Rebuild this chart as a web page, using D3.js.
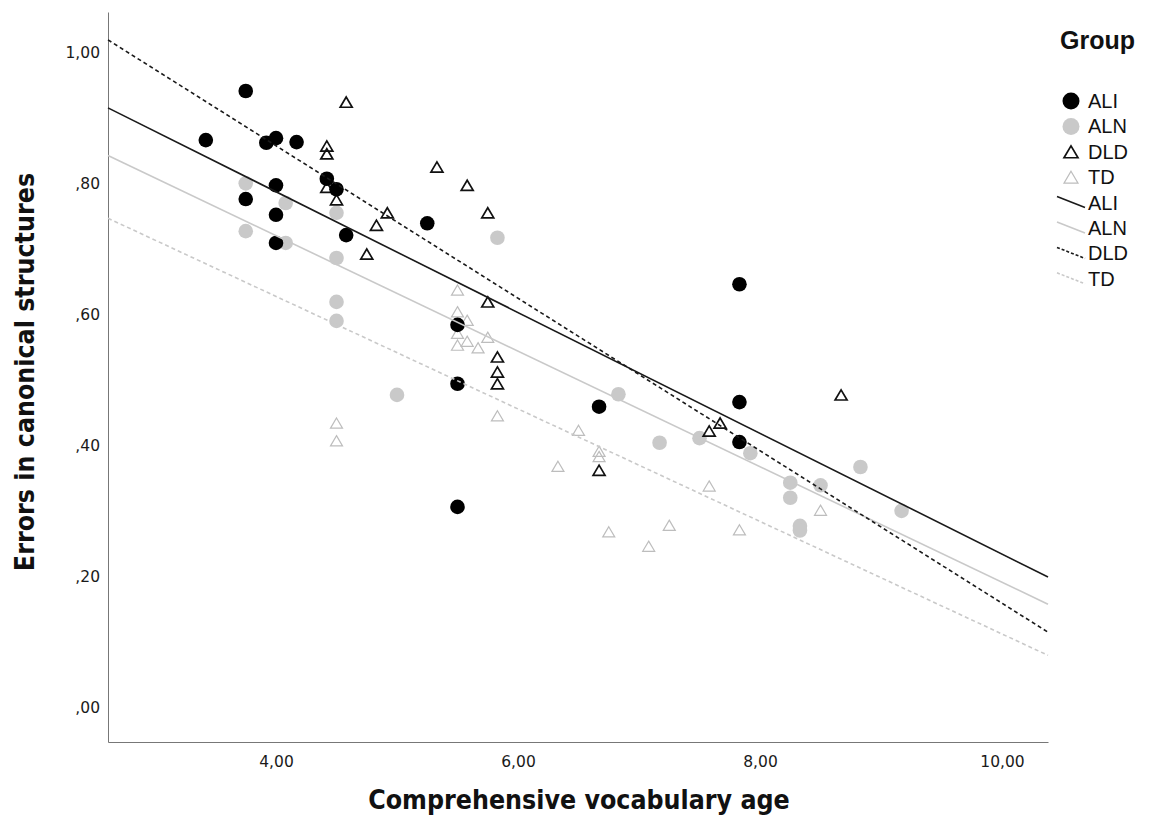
<!DOCTYPE html>
<html>
<head>
<meta charset="utf-8">
<script src="https://cdn.jsdelivr.net/npm/d3@7"></script>
<style>
  body { margin: 0; background: #fff; }
  .tick-label { font-family: "DejaVu Sans", sans-serif; font-size: 15.5px; fill: #1a1a1a; }
  .axis-title { font-family: "Liberation Sans Narrow", "DejaVu Sans Condensed", sans-serif; font-weight: bold; fill: #111; }
  .legend text { font-family: "Liberation Sans", Arial, sans-serif; fill: #111; }
</style>
</head>
<body>
<div id="chart"></div>
<script>
document.addEventListener('DOMContentLoaded', init, false);

var width = 1151;
var height = 828;

// scatter points per group: [vocabulary age, errors]
var aliPoints = [
  [3.42, 0.867], [3.75, 0.942], [3.92, 0.863], [4.00, 0.870], [4.17, 0.864],
  [3.75, 0.777], [4.00, 0.798], [4.00, 0.753], [4.00, 0.710], [4.42, 0.808],
  [4.50, 0.792], [4.58, 0.722], [5.25, 0.740], [5.50, 0.585], [5.50, 0.495],
  [5.50, 0.307], [6.67, 0.460], [7.83, 0.647], [7.83, 0.467], [7.83, 0.406]
];
var alnPoints = [
  [3.75, 0.801], [3.75, 0.728], [4.08, 0.771], [4.08, 0.710], [4.50, 0.756],
  [4.50, 0.687], [4.50, 0.620], [4.50, 0.591], [5.00, 0.478], [5.83, 0.718],
  [6.83, 0.479], [7.17, 0.405], [7.50, 0.412], [7.92, 0.389], [8.25, 0.344],
  [8.25, 0.321], [8.33, 0.278], [8.33, 0.271], [8.50, 0.340], [8.83, 0.368],
  [9.17, 0.301]
];
var dldPoints = [
  [4.42, 0.858], [4.42, 0.846], [4.58, 0.925], [4.42, 0.795], [4.50, 0.776],
  [4.75, 0.693], [4.83, 0.737], [4.92, 0.756], [5.33, 0.826], [5.58, 0.798],
  [5.75, 0.756], [5.75, 0.620], [5.83, 0.536], [5.83, 0.513], [5.83, 0.495],
  [6.67, 0.363], [7.58, 0.423], [7.67, 0.435], [8.67, 0.478]
];
var tdPoints = [
  [5.50, 0.638], [5.50, 0.605], [5.58, 0.592], [5.50, 0.572], [5.50, 0.554],
  [5.58, 0.560], [5.67, 0.550], [5.75, 0.566], [5.83, 0.446], [4.50, 0.435],
  [4.50, 0.408], [6.33, 0.369], [6.50, 0.424], [6.67, 0.392], [6.67, 0.384],
  [6.75, 0.269], [7.08, 0.247], [7.25, 0.279], [7.58, 0.339], [7.83, 0.272],
  [8.50, 0.302]
];

// fitted lines per group
var fitGroups = ['ALI', 'ALN', 'DLD', 'TD'];
var fitIntercepts = [1.157, 1.074, 1.324, 0.972];
var fitSlopes = [-0.0922, -0.0882, -0.1164, -0.0859];

var xTicks = [4, 6, 8, 10];
var yTicks = [0, 0.2, 0.4, 0.6, 0.8, 1.0];

var xTitle = 'Comprehensive vocabulary age';
var yTitle = 'Errors in canonical structures';
var legendTitle = 'Group';

var markerStyles = {
  ALI: { shape: 'circle', fill: '#000', stroke: 'none' },
  ALN: { shape: 'circle', fill: '#c9c9c9', stroke: 'none' },
  DLD: { shape: 'triangle', fill: 'none', stroke: '#111' },
  TD: { shape: 'triangle', fill: 'none', stroke: '#bdbdbd' }
};
var lineStyles = {
  ALI: { stroke: '#1a1a1a', dash: null },
  ALN: { stroke: '#c9c9c9', dash: null },
  DLD: { stroke: '#1a1a1a', dash: '4,3' },
  TD: { stroke: '#c9c9c9', dash: '4,3' }
};

function init() {

  var svg = d3.select('#chart')
    .append('svg')
      .attr('width', width)
      .attr('height', height);

  var xScale = d3.scaleLinear()
    .domain([2.6116, 10.38])
    .range([108, 1048]);

  var yScale = d3.scaleLinear()
    .domain([-0.0519, 1.0626])
    .range([742, 12]);

  drawAxes(svg, xScale, yScale);
  drawPoints(svg, xScale, yScale);
  drawFits(svg, xScale, yScale);
  drawLegend(svg);
}

function drawAxes(svg, xScale, yScale) {

  var fmt = function (d) {
    var s = d3.format('.2f')(d).replace('.', ',');
    return s.charAt(0) === '0' ? s.slice(1) : s;
  };

  svg.append('g')
    .attr('transform', 'translate(0,742)')
    .call(d3.axisBottom(xScale).tickValues(xTicks).tickSize(0).tickPadding(14).tickFormat(fmt))
    .call(function (g) {
      g.select('.domain').attr('stroke', '#777');
      g.selectAll('text').attr('class', 'tick-label').attr('fill', null).attr('font-size', null).attr('font-family', null);
    });

  svg.append('g')
    .attr('transform', 'translate(108,0)')
    .call(d3.axisLeft(yScale).tickValues(yTicks).tickSize(0).tickPadding(8).tickFormat(fmt))
    .call(function (g) {
      g.select('.domain').attr('stroke', '#777');
      g.selectAll('text').attr('class', 'tick-label').attr('fill', null).attr('font-size', null).attr('font-family', null);
    });

  svg.append('text')
    .attr('class', 'axis-title')
    .attr('x', 579)
    .attr('y', 809)
    .attr('text-anchor', 'middle')
    .attr('font-size', 26.5)
    .text(xTitle);

  svg.append('text')
    .attr('class', 'axis-title')
    .attr('transform', 'translate(34,372) rotate(-90)')
    .attr('text-anchor', 'middle')
    .attr('font-size', 26.5)
    .text(yTitle);
}

function triangle(cx, cy, size) {
  var h = size * 0.85;
  return 'M' + cx + ',' + (cy - h / 2) +
    'L' + (cx + size / 2) + ',' + (cy + h / 2) +
    'L' + (cx - size / 2) + ',' + (cy + h / 2) + 'Z';
}

function drawPoints(svg, xScale, yScale) {

  var groups = [
    { key: 'TD', data: tdPoints },
    { key: 'ALN', data: alnPoints },
    { key: 'DLD', data: dldPoints },
    { key: 'ALI', data: aliPoints }
  ];

  groups.forEach(function (grp) {
    var st = markerStyles[grp.key];
    var g = svg.append('g').attr('class', 'points ' + grp.key.toLowerCase());

    if (st.shape === 'circle') {
      g.selectAll('circle')
        .data(grp.data)
        .enter()
        .append('circle')
          .attr('cx', function (d) { return xScale(d[0]); })
          .attr('cy', function (d) { return yScale(d[1]); })
          .attr('r', 7.3)
          .attr('fill', st.fill);
    } else {
      g.selectAll('path')
        .data(grp.data)
        .enter()
        .append('path')
          .attr('d', function (d) { return triangle(xScale(d[0]), yScale(d[1]), 12); })
          .attr('fill', st.fill)
          .attr('stroke', st.stroke)
          .attr('stroke-width', grp.key === 'DLD' ? 1.7 : 1.2)
          .attr('stroke-linejoin', 'miter');
    }
  });
}

function drawFits(svg, xScale, yScale) {

  var x0 = xScale.domain()[0];
  var x1 = xScale.domain()[1];

  var line = d3.line()
    .x(function (d) { return xScale(d[0]); })
    .y(function (d) { return yScale(d[1]); });

  fitGroups.forEach(function (key, i) {
    var a = fitIntercepts[i];
    var b = fitSlopes[i];
    var st = lineStyles[key];
    svg.append('path')
      .attr('fill', 'none')
      .attr('stroke', st.stroke)
      .attr('stroke-width', 1.6)
      .attr('stroke-dasharray', st.dash)
      .attr('d', line([[x0, a + b * x0], [x1, a + b * x1]]));
  });
}

function drawLegend(svg) {

  var legend = svg.append('g').attr('class', 'legend');

  legend.append('text')
    .attr('x', 1060)
    .attr('y', 49)
    .attr('font-size', 25)
    .attr('font-weight', 'bold')
    .text(legendTitle);

  var rowY = function (i) { return 101 + i * 25.4; };

  fitGroups.forEach(function (key, i) {
    var st = markerStyles[key];
    var y = rowY(i);
    if (st.shape === 'circle') {
      legend.append('circle')
        .attr('cx', 1071)
        .attr('cy', y)
        .attr('r', 8.5)
        .attr('fill', st.fill);
    } else {
      legend.append('path')
        .attr('d', triangle(1071, y, 14))
        .attr('fill', 'none')
        .attr('stroke', st.stroke)
        .attr('stroke-width', key === 'DLD' ? 1.7 : 1.2);
    }
    legend.append('text')
      .attr('x', 1088)
      .attr('y', y + 7)
      .attr('font-size', 20)
      .text(key);
  });

  fitGroups.forEach(function (key, i) {
    var st = lineStyles[key];
    var y = rowY(i + 4);
    legend.append('line')
      .attr('x1', 1057)
      .attr('x2', 1085)
      .attr('y1', y - 6)
      .attr('y2', y + 5)
      .attr('stroke', st.stroke)
      .attr('stroke-width', 1.6)
      .attr('stroke-dasharray', st.dash ? '3,2' : null);
    legend.append('text')
      .attr('x', 1088)
      .attr('y', y + 7)
      .attr('font-size', 20)
      .text(key);
  });
}
</script>
</body>
</html>
